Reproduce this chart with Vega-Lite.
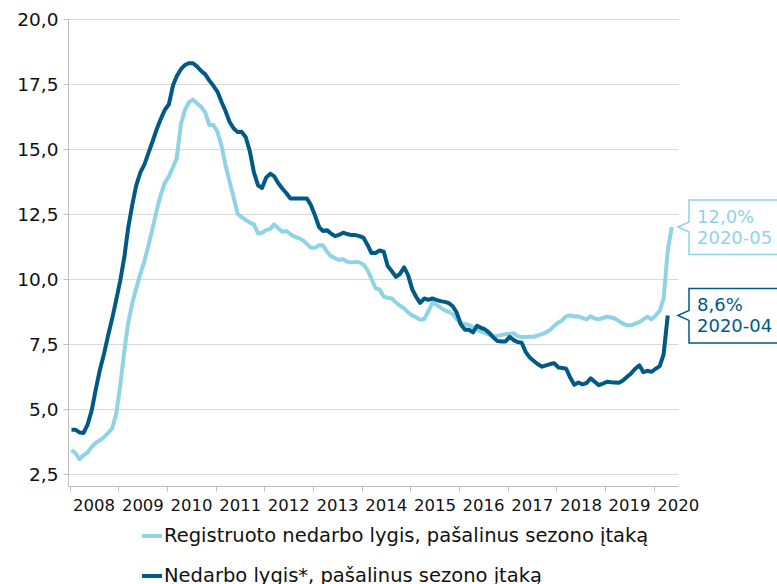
{
  "$schema": "https://vega.github.io/schema/vega-lite/v6.json",
  "width": 610,
  "height": 467,
  "autosize": {"type": "none"},
  "padding": {"left": 68, "top": 19, "right": 99, "bottom": 98},
  "background": "white",
  "config": {"view": {"stroke": null}, "font": "DejaVu Sans"},
  "datasets": {
    "series": [
      {"d":"2008-01-15","reg":3.42,"ned":4.2},
      {"d":"2008-02-15","reg":3.3,"ned":4.2},
      {"d":"2008-03-15","reg":3.07,"ned":4.1},
      {"d":"2008-04-15","reg":3.22,"ned":4.08},
      {"d":"2008-05-15","reg":3.33,"ned":4.4},
      {"d":"2008-06-15","reg":3.55,"ned":4.95},
      {"d":"2008-07-15","reg":3.7,"ned":5.75},
      {"d":"2008-08-15","reg":3.8,"ned":6.5},
      {"d":"2008-09-15","reg":3.92,"ned":7.12},
      {"d":"2008-10-15","reg":4.07,"ned":7.81},
      {"d":"2008-11-15","reg":4.25,"ned":8.47},
      {"d":"2008-12-15","reg":4.8,"ned":9.18},
      {"d":"2009-01-15","reg":5.9,"ned":9.94},
      {"d":"2009-02-15","reg":7.24,"ned":10.85},
      {"d":"2009-03-15","reg":8.3,"ned":11.95},
      {"d":"2009-04-15","reg":9.07,"ned":12.85},
      {"d":"2009-05-15","reg":9.64,"ned":13.6},
      {"d":"2009-06-15","reg":10.2,"ned":14.1},
      {"d":"2009-07-15","reg":10.68,"ned":14.4},
      {"d":"2009-08-15","reg":11.3,"ned":14.85},
      {"d":"2009-09-15","reg":11.95,"ned":15.3},
      {"d":"2009-10-15","reg":12.63,"ned":15.75},
      {"d":"2009-11-15","reg":13.24,"ned":16.15},
      {"d":"2009-12-15","reg":13.7,"ned":16.5},
      {"d":"2010-01-15","reg":13.95,"ned":16.72},
      {"d":"2010-02-15","reg":14.3,"ned":17.45},
      {"d":"2010-03-15","reg":14.65,"ned":17.8},
      {"d":"2010-04-15","reg":15.95,"ned":18.07},
      {"d":"2010-05-15","reg":16.5,"ned":18.23},
      {"d":"2010-06-15","reg":16.8,"ned":18.3},
      {"d":"2010-07-15","reg":16.9,"ned":18.3},
      {"d":"2010-08-15","reg":16.75,"ned":18.17},
      {"d":"2010-09-15","reg":16.62,"ned":18.0},
      {"d":"2010-10-15","reg":16.4,"ned":17.87},
      {"d":"2010-11-15","reg":15.92,"ned":17.63},
      {"d":"2010-12-15","reg":15.92,"ned":17.43},
      {"d":"2011-01-15","reg":15.65,"ned":17.2},
      {"d":"2011-02-15","reg":15.1,"ned":16.8},
      {"d":"2011-03-15","reg":14.4,"ned":16.47},
      {"d":"2011-04-15","reg":13.75,"ned":16.05},
      {"d":"2011-05-15","reg":13.15,"ned":15.8},
      {"d":"2011-06-15","reg":12.5,"ned":15.65},
      {"d":"2011-07-15","reg":12.38,"ned":15.66},
      {"d":"2011-08-15","reg":12.27,"ned":15.45},
      {"d":"2011-09-15","reg":12.17,"ned":14.9},
      {"d":"2011-10-15","reg":12.1,"ned":14.1},
      {"d":"2011-11-15","reg":11.75,"ned":13.6},
      {"d":"2011-12-15","reg":11.78,"ned":13.5},
      {"d":"2012-01-15","reg":11.88,"ned":13.9},
      {"d":"2012-02-15","reg":11.93,"ned":14.05},
      {"d":"2012-03-15","reg":12.1,"ned":13.95},
      {"d":"2012-04-15","reg":11.95,"ned":13.68},
      {"d":"2012-05-15","reg":11.82,"ned":13.48},
      {"d":"2012-06-15","reg":11.85,"ned":13.3},
      {"d":"2012-07-15","reg":11.72,"ned":13.1},
      {"d":"2012-08-15","reg":11.63,"ned":13.1},
      {"d":"2012-09-15","reg":11.57,"ned":13.1},
      {"d":"2012-10-15","reg":11.5,"ned":13.1},
      {"d":"2012-11-15","reg":11.35,"ned":13.1},
      {"d":"2012-12-15","reg":11.2,"ned":12.85},
      {"d":"2013-01-15","reg":11.2,"ned":12.45},
      {"d":"2013-02-15","reg":11.3,"ned":12.0},
      {"d":"2013-03-15","reg":11.3,"ned":11.85},
      {"d":"2013-04-15","reg":11.05,"ned":11.88},
      {"d":"2013-05-15","reg":10.88,"ned":11.75},
      {"d":"2013-06-15","reg":10.8,"ned":11.65},
      {"d":"2013-07-15","reg":10.73,"ned":11.7},
      {"d":"2013-08-15","reg":10.76,"ned":11.78},
      {"d":"2013-09-15","reg":10.66,"ned":11.73},
      {"d":"2013-10-15","reg":10.64,"ned":11.69},
      {"d":"2013-11-15","reg":10.66,"ned":11.69},
      {"d":"2013-12-15","reg":10.64,"ned":11.65},
      {"d":"2014-01-15","reg":10.55,"ned":11.58},
      {"d":"2014-02-15","reg":10.33,"ned":11.3},
      {"d":"2014-03-15","reg":10.0,"ned":11.0},
      {"d":"2014-04-15","reg":9.64,"ned":11.0},
      {"d":"2014-05-15","reg":9.6,"ned":11.1},
      {"d":"2014-06-15","reg":9.32,"ned":11.05},
      {"d":"2014-07-15","reg":9.28,"ned":10.5},
      {"d":"2014-08-15","reg":9.25,"ned":10.3},
      {"d":"2014-09-15","reg":9.1,"ned":10.08},
      {"d":"2014-10-15","reg":8.97,"ned":10.2},
      {"d":"2014-11-15","reg":8.87,"ned":10.45},
      {"d":"2014-12-15","reg":8.72,"ned":10.15},
      {"d":"2015-01-15","reg":8.6,"ned":9.6},
      {"d":"2015-02-15","reg":8.52,"ned":9.3},
      {"d":"2015-03-15","reg":8.43,"ned":9.08},
      {"d":"2015-04-15","reg":8.46,"ned":9.25},
      {"d":"2015-05-15","reg":8.75,"ned":9.2},
      {"d":"2015-06-15","reg":9.08,"ned":9.25},
      {"d":"2015-07-15","reg":9.02,"ned":9.2},
      {"d":"2015-08-15","reg":8.9,"ned":9.15},
      {"d":"2015-09-15","reg":8.8,"ned":9.12},
      {"d":"2015-10-15","reg":8.74,"ned":9.08},
      {"d":"2015-11-15","reg":8.65,"ned":8.95},
      {"d":"2015-12-15","reg":8.45,"ned":8.7},
      {"d":"2016-01-15","reg":8.3,"ned":8.25},
      {"d":"2016-02-15","reg":8.27,"ned":8.05},
      {"d":"2016-03-15","reg":8.23,"ned":8.05},
      {"d":"2016-04-15","reg":8.15,"ned":7.95},
      {"d":"2016-05-15","reg":8.05,"ned":8.2},
      {"d":"2016-06-15","reg":7.98,"ned":8.12},
      {"d":"2016-07-15","reg":7.93,"ned":8.06},
      {"d":"2016-08-15","reg":7.85,"ned":7.93},
      {"d":"2016-09-15","reg":7.8,"ned":7.75},
      {"d":"2016-10-15","reg":7.82,"ned":7.62},
      {"d":"2016-11-15","reg":7.85,"ned":7.6},
      {"d":"2016-12-15","reg":7.88,"ned":7.6},
      {"d":"2017-01-15","reg":7.9,"ned":7.78},
      {"d":"2017-02-15","reg":7.91,"ned":7.65},
      {"d":"2017-03-15","reg":7.8,"ned":7.58},
      {"d":"2017-04-15","reg":7.77,"ned":7.55},
      {"d":"2017-05-15","reg":7.77,"ned":7.2},
      {"d":"2017-06-15","reg":7.78,"ned":6.98},
      {"d":"2017-07-15","reg":7.78,"ned":6.85},
      {"d":"2017-08-15","reg":7.83,"ned":6.72},
      {"d":"2017-09-15","reg":7.88,"ned":6.63},
      {"d":"2017-10-15","reg":7.95,"ned":6.68},
      {"d":"2017-11-15","reg":8.05,"ned":6.73},
      {"d":"2017-12-15","reg":8.2,"ned":6.76},
      {"d":"2018-01-15","reg":8.32,"ned":6.6},
      {"d":"2018-02-15","reg":8.42,"ned":6.58},
      {"d":"2018-03-15","reg":8.57,"ned":6.55},
      {"d":"2018-04-15","reg":8.6,"ned":6.2},
      {"d":"2018-05-15","reg":8.56,"ned":5.93},
      {"d":"2018-06-15","reg":8.57,"ned":6.02},
      {"d":"2018-07-15","reg":8.5,"ned":5.95},
      {"d":"2018-08-15","reg":8.45,"ned":6.0},
      {"d":"2018-09-15","reg":8.57,"ned":6.18},
      {"d":"2018-10-15","reg":8.48,"ned":6.05},
      {"d":"2018-11-15","reg":8.45,"ned":5.92},
      {"d":"2018-12-15","reg":8.5,"ned":5.98},
      {"d":"2019-01-15","reg":8.55,"ned":6.05},
      {"d":"2019-02-15","reg":8.52,"ned":6.03},
      {"d":"2019-03-15","reg":8.48,"ned":6.02},
      {"d":"2019-04-15","reg":8.38,"ned":6.01},
      {"d":"2019-05-15","reg":8.28,"ned":6.1},
      {"d":"2019-06-15","reg":8.22,"ned":6.24},
      {"d":"2019-07-15","reg":8.22,"ned":6.37},
      {"d":"2019-08-15","reg":8.28,"ned":6.55},
      {"d":"2019-09-15","reg":8.34,"ned":6.68},
      {"d":"2019-10-15","reg":8.45,"ned":6.42},
      {"d":"2019-11-15","reg":8.55,"ned":6.47},
      {"d":"2019-12-15","reg":8.45,"ned":6.43},
      {"d":"2020-01-15","reg":8.6,"ned":6.55},
      {"d":"2020-02-15","reg":8.78,"ned":6.65},
      {"d":"2020-03-15","reg":9.25,"ned":7.1},
      {"d":"2020-04-15","reg":11.1,"ned":8.6},
      {"d":"2020-05-15","reg":12.0,"ned":null}
    ],
    "notes": [
      {"d":"2020-07-01","key":"reg","value":12.0,"label":"12,0%\n2020-05"},
      {"d":"2020-07-01","key":"ned","value":8.6,"label":"8,6%\n2020-04"}
    ]
  },
  "layer": [
    {
      "data": {"name": "series"},
      "transform": [{"fold": ["reg", "ned"], "as": ["key", "value"]}],
      "mark": {"type": "line", "strokeWidth": 4, "strokeJoin": "round"},
      "encoding": {
        "x": {
          "field": "d", "type": "temporal",
          "scale": {"domain": [{"year": 2007, "month": 12, "date": 20}, {"year": 2020, "month": 7, "date": 1}]},
          "axis": {
            "title": null, "format": "%Y",
            "tickCount": {"interval": "year", "step": 1},
            "labelOffset": 24, "labelAlign": "center", "labelFontSize": 16.5,
            "labelFont": "DejaVu Sans", "labelColor": "#111111", "labelPadding": 6,
            "labelOverlap": false, "labelBound": false, "labelFlush": false,
            "grid": false, "domainColor": "#bfbfbf", "tickColor": "#bfbfbf", "tickSize": 5
          }
        },
        "y": {
          "field": "value", "type": "quantitative",
          "scale": {"domain": [2.04, 20], "nice": false, "zero": false},
          "axis": {
            "title": null, "values": [2.5, 5, 7.5, 10, 12.5, 15, 17.5, 20],
            "labelExpr": "replace(format(datum.value, '.1f'), '.', ',')",
            "labelFontSize": 18.5, "labelFont": "DejaVu Sans", "labelColor": "#111111",
            "labelPadding": 5, "tickSize": 5, "tickColor": "#bfbfbf",
            "domainColor": "#bfbfbf", "grid": true, "gridColor": "#d9d9d9"
          }
        },
        "color": {
          "field": "key", "type": "nominal",
          "scale": {"domain": ["reg", "ned"], "range": ["#8fd3e6", "#005a85"]},
          "legend": {
            "orient": "none", "legendX": 72, "legendY": 505, "direction": "vertical",
            "title": null, "symbolType": "stroke", "symbolStrokeWidth": 4, "symbolSize": 400,
            "labelFontSize": 19.5, "labelFont": "DejaVu Sans", "labelColor": "#111111",
            "rowPadding": 18, "labelOffset": 0, "padding": 0, "labelLimit": 0,
            "labelExpr": "datum.label == 'reg' ? 'Registruoto nedarbo lygis, pašalinus sezono įtaką' : 'Nedarbo lygis*, pašalinus sezono įtaką'"
          }
        }
      }
    },
    {
      "data": {"name": "notes"},
      "mark": {"type": "point", "shape": "M0,0L11,-5L11,-27L130,-27L130,27.5L11,27.5L11,5Z", "size": 4, "fill": "white", "filled": true, "strokeWidth": 1.5, "opacity": 1},
      "encoding": {
        "x": {"field": "d", "type": "temporal"},
        "y": {"field": "value", "type": "quantitative"},
        "stroke": {"field": "key", "type": "nominal", "scale": {"domain": ["reg", "ned"], "range": ["#8fd3e6", "#005a85"]}, "legend": null}
      }
    },
    {
      "data": {"name": "notes"},
      "mark": {"type": "text", "align": "left", "baseline": "alphabetic", "dx": 19, "dy": -4.5, "fontSize": 18, "font": "DejaVu Sans", "lineBreak": "\n", "lineHeight": 21},
      "encoding": {
        "x": {"field": "d", "type": "temporal"},
        "y": {"field": "value", "type": "quantitative"},
        "text": {"field": "label", "type": "nominal"},
        "fill": {"field": "key", "type": "nominal", "scale": {"domain": ["reg", "ned"], "range": ["#8fd3e6", "#005a85"]}, "legend": null}
      }
    }
  ]
}
